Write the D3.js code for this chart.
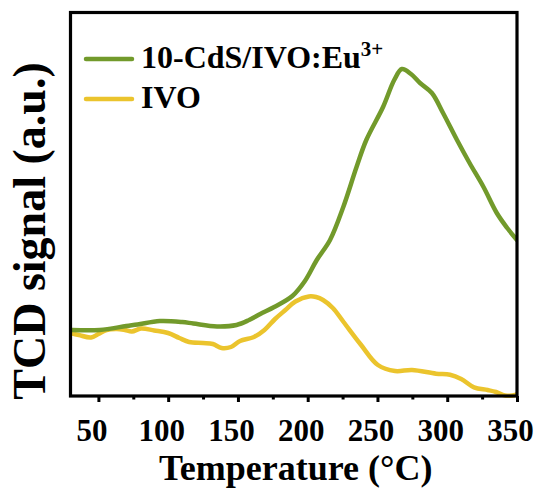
<!DOCTYPE html>
<html>
<head>
<meta charset="utf-8">
<script src="https://cdn.jsdelivr.net/npm/d3@7"></script>
<style>
html,body{margin:0;padding:0;background:#fff;}
svg{display:block;}
text{font-family:"Liberation Serif","Times New Roman",serif;font-weight:bold;fill:#000;}
</style>
</head>
<body>
<svg id="chart" width="539" height="488"></svg>
<script>
// Temperature (°C) and TCD signal (arbitrary units)
const seriesNames = ["10-CdS/IVO:Eu", "IVO"];
const greenT = [31, 51, 70, 78, 94, 110, 118, 135, 149, 158, 166, 176, 189, 198, 206.5, 216, 225.5, 235, 242, 254, 262, 267.5, 274, 280.5, 289, 297, 307, 316, 326, 335.5, 343, 350];
const greenS = [66, 66, 70, 71.5, 75, 74, 72.5, 69.5, 71, 76, 82, 89, 100, 115, 136, 156, 189, 229, 256, 289, 316, 327, 322, 313, 303, 283, 256, 233, 209, 183, 168, 156];
const yellowT = [30, 36, 44.7, 50, 55.8, 63.3, 69, 74, 80.5, 90, 99.9, 108, 115, 125, 132, 138.3, 145, 151.5, 161.5, 169, 176.6, 184, 191.2, 200.9, 206, 211, 218, 225.7, 238, 250.3, 262.6, 274.8, 292, 302, 310, 319.2, 329, 335, 341.4, 348.8, 350];
const yellowS = [63, 61, 58.5, 62, 66, 67, 66, 64.5, 67.5, 65.5, 63, 58, 54, 53, 52, 48, 49, 55, 59, 66, 77, 86, 94.5, 99.6, 99, 96, 88, 74, 51.5, 31, 25, 26, 22.3, 21.3, 17, 8.6, 6, 4, 0.5, 1, 2];
const majorTicks = [50, 100, 150, 200, 250, 300, 350];
const minorTicks = [75, 125, 175, 225, 275, 325];
const xDomain = [30, 350];
const yDomain = [0, 383.5];
const colors = ["#729a2b", "#ebc42d"];

const svg = d3.select("#chart");
const L = 70.5, R = 517, T = 12.5, B = 396;
const x = d3.scaleLinear().domain(xDomain).range([L, R]);
const y = d3.scaleLinear().domain(yDomain).range([B, T]);

svg.append("rect").attr("width", 539).attr("height", 488).attr("fill", "#fff");

const line = d3.line().x(d => x(d[0])).y(d => y(d[1])).curve(d3.curveCatmullRom.alpha(0.5));
const gData = greenT.map((t, i) => [t, greenS[i]]);
const yData = yellowT.map((t, i) => [t, yellowS[i]]);

svg.append("clipPath").attr("id", "clip").append("rect")
  .attr("x", L).attr("y", T).attr("width", R - L).attr("height", B - T + 2);

const plot = svg.append("g").attr("clip-path", "url(#clip)");
plot.append("path").datum(yData).attr("d", line).attr("fill", "none")
  .attr("stroke", colors[1]).attr("stroke-width", 4.5).attr("stroke-linejoin", "round").attr("stroke-linecap", "round");
plot.append("path").datum(gData).attr("d", line).attr("fill", "none")
  .attr("stroke", colors[0]).attr("stroke-width", 4.5).attr("stroke-linejoin", "round").attr("stroke-linecap", "round");

// Frame
svg.append("rect").attr("x", L).attr("y", T).attr("width", R - L).attr("height", B - T)
  .attr("fill", "none").attr("stroke", "#000").attr("stroke-width", 3.2);

// Axis
const xAxis = d3.axisBottom(x).tickValues(majorTicks).tickSize(6).tickPadding(17).tickFormat(d3.format("d"));
const gx = svg.append("g").attr("transform", `translate(0,${B})`).call(xAxis);
gx.select(".domain").remove();
gx.selectAll(".tick line").attr("stroke", "#000").attr("stroke-width", 3);
gx.selectAll(".tick text").style("font-size", "31px").attr("font-family", null).attr("dx", -7);
const xMinor = d3.axisBottom(x).tickValues(minorTicks).tickSize(3.5).tickFormat("");
const gm = svg.append("g").attr("transform", `translate(0,${B})`).call(xMinor);
gm.select(".domain").remove();
gm.selectAll(".tick line").attr("stroke", "#000").attr("stroke-width", 3);

// Axis titles
svg.append("text").attr("x", (L + R) / 2 + 2).attr("y", 480).attr("text-anchor", "middle")
  .style("font-size", "36px").text("Temperature (°C)");
svg.append("text").attr("transform", "translate(45,231) rotate(-90)").attr("text-anchor", "middle")
  .style("font-size", "46px").text("TCD signal (a.u.)");

// Legend
const leg = svg.append("g");
const legY = [59, 99];
seriesNames.forEach((n, i) => {
  leg.append("line").attr("x1", 86).attr("x2", 132).attr("y1", legY[i]).attr("y2", legY[i])
    .attr("stroke", colors[i]).attr("stroke-width", 4.5).attr("stroke-linecap", "round");
  const t = leg.append("text").attr("x", 141).attr("y", legY[i] + 8.5).style("font-size", "32px");
  t.append("tspan").text(n);
  if (i === 0) {
    t.append("tspan").attr("dy", -12).style("font-size", "21px").text("3+");
  }
});
</script>
</body>
</html>
